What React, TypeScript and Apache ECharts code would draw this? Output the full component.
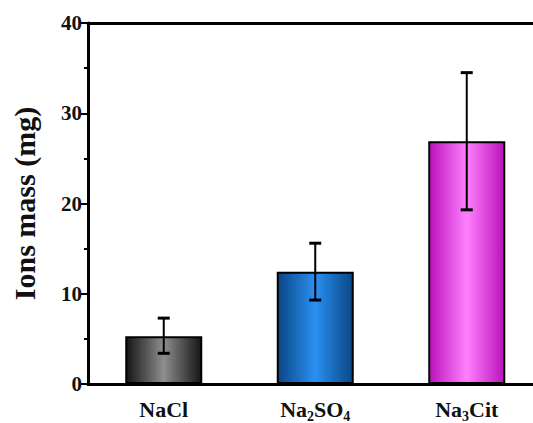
import React, { useEffect, useRef } from "react";
import * as echarts from "echarts";

const categories = ["NaCl", "Na2SO4", "Na3Cit"];
const categoryLabels = ["{a|NaCl}", "{a|Na}{s|2}{a|SO}{s|4}", "{a|Na}{s|3}{a|Cit}"];
const meanValues = [5.3, 12.45, 26.9];
const errLow = [3.4, 9.3, 19.3];
const errHigh = [7.3, 15.6, 34.5];
const edgeColors = ["#151515", "#0a4685", "#bb12bb"];
const midColors = ["#8e8e8e", "#2a90f2", "#ff80ff"];
const yTicks = [0, 10, 20, 30, 40];

const FONT = "'Liberation Serif', 'Times New Roman', serif";

export default function App() {
  const ref = useRef<HTMLDivElement>(null);
  useEffect(() => {
    if (!ref.current) return;
    const chart = echarts.init(ref.current, null, { renderer: "svg" });
    const grad = (i: number) =>
      new echarts.graphic.LinearGradient(0, 0, 1, 0, [
        { offset: 0, color: edgeColors[i] },
        { offset: 0.5, color: midColors[i] },
        { offset: 1, color: edgeColors[i] },
      ]);
    chart.setOption({
      animation: false,
      grid: { left: 88, top: 23, bottom: 34, right: 2.5, containLabel: false },
      xAxis: [
        {
          type: "category",
          data: categories,
          position: "bottom",
          axisLine: { lineStyle: { color: "#000", width: 3 } },
          axisTick: { show: false },
          axisLabel: {
            margin: 11,
            formatter: (_v: string, i: number) => categoryLabels[i],
            rich: {
              a: { fontFamily: FONT, fontWeight: "bold", fontSize: 22, color: "#111", lineHeight: 28, verticalAlign: "middle" },
              s: { fontFamily: FONT, fontWeight: "bold", fontSize: 14, color: "#111", lineHeight: 14, verticalAlign: "bottom" },
            },
          },
        },
        {
          type: "category",
          data: categories,
          position: "top",
          axisLine: { lineStyle: { color: "#000", width: 3 } },
          axisTick: { show: false },
          axisLabel: { show: false },
        },
      ],
      yAxis: {
        type: "value",
        min: yTicks[0],
        max: yTicks[yTicks.length - 1],
        interval: 10,
        name: "Ions mass (mg)",
        nameLocation: "middle",
        nameGap: 49,
        nameTextStyle: { fontFamily: FONT, fontWeight: "bold", fontSize: 30, color: "#111" },
        axisLine: { show: true, lineStyle: { color: "#000", width: 3 } },
        axisTick: { show: true, inside: false, length: 7, lineStyle: { color: "#000", width: 2 } },
        minorTick: { show: true, splitNumber: 2, length: 4, lineStyle: { color: "#000", width: 2 } },
        splitLine: { show: false },
        axisLabel: { fontFamily: FONT, fontWeight: "bold", fontSize: 21, color: "#111", margin: 6 },
      },
      series: [
        {
          type: "bar",
          barWidth: 77,
          data: meanValues.map((v, i) => ({
            value: v,
            itemStyle: { color: grad(i), borderColor: "#000", borderWidth: 2 },
          })),
        },
        {
          type: "custom",
          data: categories.map((_c, i) => [i, errLow[i], errHigh[i]]),
          z: 10,
          renderItem: (_params: any, api: any) => {
            const x = api.value(0);
            const lo = api.coord([x, api.value(1)]);
            const hi = api.coord([x, api.value(2)]);
            const cap = 6;
            const style = { stroke: "#000", lineWidth: 2 };
            return {
              type: "group",
              children: [
                { type: "line", shape: { x1: hi[0], y1: hi[1], x2: lo[0], y2: lo[1] }, style },
                { type: "line", shape: { x1: hi[0] - cap, y1: hi[1], x2: hi[0] + cap, y2: hi[1] }, style: { stroke: "#000", lineWidth: 3 } },
                { type: "line", shape: { x1: lo[0] - cap, y1: lo[1], x2: lo[0] + cap, y2: lo[1] }, style: { stroke: "#000", lineWidth: 3 } },
              ],
            };
          },
        },
      ],
    });
    return () => chart.dispose();
  }, []);
  return (
    <div style={{ position: "fixed", left: 0, top: 0, width: 533, height: 423, overflow: "hidden", background: "#fff" }}>
      <div ref={ref} style={{ width: 545, height: 423 }} />
    </div>
  );
}
